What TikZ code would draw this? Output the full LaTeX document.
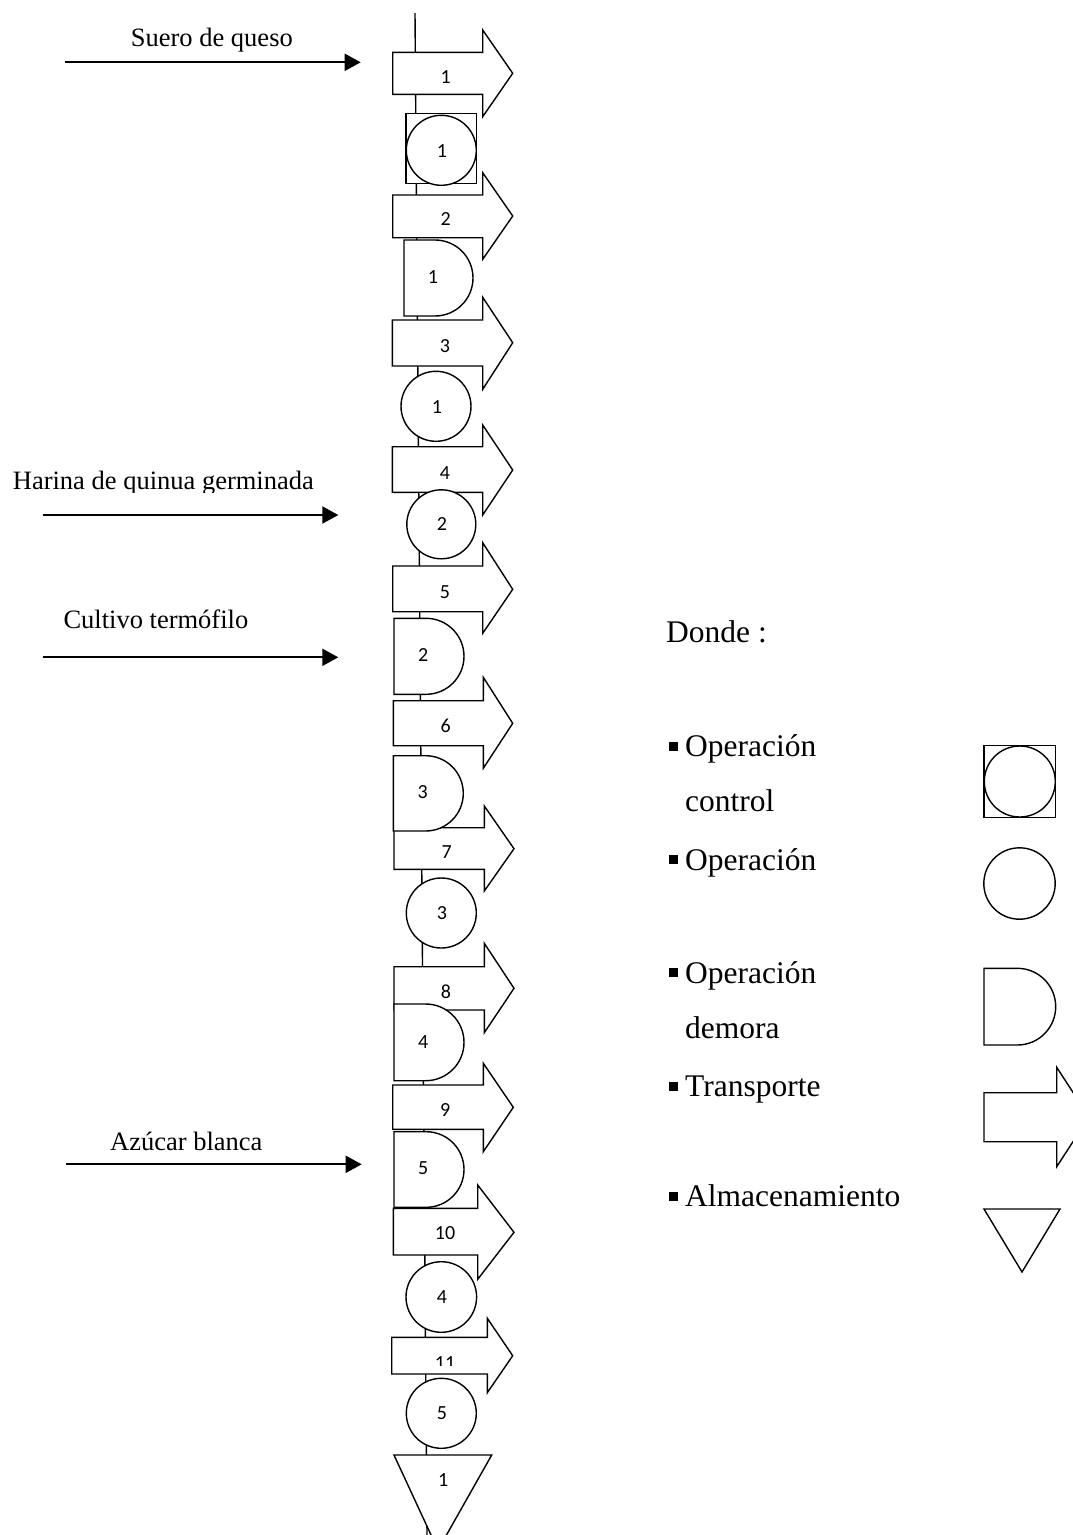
\documentclass[tikz,border=0pt]{standalone}
\usepackage{fontspec}
\setmainfont{Liberation Serif}
\newfontfamily\numfont{Carlito}
\usetikzlibrary{arrows.meta}

% transport arrow: left, right, top, bottom, head top, head bottom, tip x, tip y
\newcommand{\transp}[8]{%
  \draw[shp] (#1,#3) -- (#2,#3) -- (#2,#5) -- (#7,#8) -- (#2,#6) -- (#2,#4) -- (#1,#4) -- cycle;}
% delay symbol: left, top, radius, end of flat part
\newcommand{\delayD}[4]{%
  \draw[shp] (#1,#2) -- (#4,#2) arc[start angle=-90,end angle=90,radius=#3] -- (#1,#2+2*#3) -- cycle;}
% operation symbol: centre x, centre y, radius
\newcommand{\opcirc}[3]{\draw[shp] (#1,#2) circle[radius=#3];}
% bullet mark before a legend entry, at a baseline
\newcommand{\bulletmark}[1]{\fill (669,#1-15) rectangle (678,#1-6);}

\begin{document}
\begin{tikzpicture}[x=1pt,y=-1pt,
  shp/.style={draw, line width=1.4pt, fill=white},
  num/.style={font=\numfont\fontsize{20}{24}\selectfont, inner sep=0pt},
  lbl/.style={font=\fontsize{26.5}{30}\selectfont, inner sep=0pt, anchor=base west},
  leg/.style={font=\fontsize{31.5}{36}\selectfont, inner sep=0pt, anchor=base west},
  feed/.style={line width=2pt, -{Triangle[length=16pt,width=17pt]}}]
\useasboundingbox (0,0) rectangle (1073,1535);
\clip (0,0) rectangle (1073,1535);

% main process line
\coordinate (top) at (415,13);
\coordinate (bot) at (427,1535);
\draw[line width=1.4pt] (top) -- (bot);

% transports
\transp{392.7}{482.7}{52.3}{94.3}{30}{116.7}{512.7}{73.3}
\transp{392.7}{482.7}{195}{237.7}{172.7}{259.3}{512.7}{216}
\transp{392.3}{482.7}{320}{366}{297.3}{389.3}{512.7}{342.7}
\transp{392.3}{482.7}{446.7}{492.3}{425}{515}{512.7}{470}
\transp{392.7}{482.7}{566}{611.7}{542.7}{633.3}{512.7}{589.3}
\transp{393.3}{483.3}{700.7}{745.7}{677.3}{768.3}{512.7}{723.3}
\transp{394}{484.3}{827.7}{869.3}{806}{891}{514}{848.7}
\transp{394}{484.3}{966.7}{1010}{943.3}{1032.7}{514}{988.3}
\transp{392.7}{483.3}{1085}{1129.3}{1063.3}{1151.7}{513.3}{1107.3}
\transp{393.3}{477.7}{1208.3}{1255}{1185}{1279.3}{514}{1232.3}
\transp{391.7}{487.3}{1337.3}{1374}{1318.3}{1392.7}{512.7}{1355.7}

\node[num] (t1) at (445.7,77) {1};
\node[num] (t2) at (445.7,219) {2};
\node[num] (t3) at (445,346) {3};
\node[num] (t4) at (445,472.7) {4};
\node[num] (t5) at (445,591.7) {5};
\node[num] (t6) at (445.7,726) {6};
\node[num] (t7) at (446.7,852.3) {7};
\node[num] (t8) at (446,991.7) {8};
\node[num] (t9) at (445.3,1110) {9};
\node[num] (t10) at (445,1233.3) {10};
\begin{scope}
  \clip (391.7,1337.3) rectangle (487.3,1365);
  \node[num] (t11) at (445,1363.3) {11};
\end{scope}

% combined operation-control
\draw[shp] (406,113.3) rectangle (476.7,183.3);
\opcirc{441.3}{150.3}{35}
\node[num] (oc1) at (442,151) {1};

% delays
\delayD{404}{240}{38}{435}
\node[num] (d1) at (433,276.7) {1};
\delayD{394}{618.3}{38}{426}
\node[num] (d2) at (423.3,655) {2};
\delayD{393.3}{755.7}{37.65}{425.65}
\node[num] (d3) at (422.7,791.7) {3};
\delayD{394}{1004}{38.35}{425.65}
\node[num] (d4) at (423.3,1041.7) {4};
\delayD{394}{1131.7}{37.8}{426.2}
\node[num] (d5) at (423.3,1168.3) {5};

% operations
\opcirc{436}{406.3}{35}
\node[num] (o1) at (437,407) {1};
\opcirc{441.3}{524.3}{34.5}
\node[num] (o2) at (442,524.5) {2};
\opcirc{441.3}{913}{35}
\node[num] (o3) at (442,913) {3};
\opcirc{441.3}{1297}{35.3}
\node[num] (o4) at (442,1296.7) {4};
\opcirc{441.3}{1413.3}{35}
\node[num] (o5) at (442,1413.3) {5};

% storage
\draw[shp] (394,1455) -- (491.7,1455) -- (438,1550) -- cycle;
\node[num] (s1) at (443.3,1480) {1};

% incoming materials
\node[lbl] (m1) at (130.7,46.7) {Suero de queso};
\coordinate (m1a) at (65,62.3);
\coordinate (m1b) at (360.7,62.3);
\draw[feed] (m1a) -- (m1b);

\begin{scope}
  \clip (0,440) rectangle (380,492);
  \node[lbl] (m2) at (12.7,489.5) {Harina de quinua germinada};
\end{scope}
\coordinate (m2a) at (42.7,515);
\coordinate (m2b) at (338.3,515);
\draw[feed] (m2a) -- (m2b);

\node[lbl] (m3) at (63.3,628.3) {Cultivo termófilo};
\coordinate (m3a) at (42.7,657.3);
\coordinate (m3b) at (338.3,657.3);
\draw[feed] (m3a) -- (m3b);

\node[lbl] (m4) at (110,1150) {Azúcar blanca};
\coordinate (m4a) at (66,1164.3);
\coordinate (m4b) at (361.7,1164.3);
\draw[feed] (m4a) -- (m4b);

% legend
\node[leg] (key) at (666,642.7) {Donde :};
\bulletmark{756.7}
\node[leg] (k1) at (685,756.7) {Operación};
\node[leg] (k1b) at (685,811.7) {control};
\bulletmark{870}
\node[leg] (k2) at (685,870) {Operación};
\bulletmark{983.3}
\node[leg] (k3) at (685,983.3) {Operación};
\node[leg] (k3b) at (685,1038.3) {demora};
\bulletmark{1096.7}
\node[leg] (k4) at (685,1096.7) {Transporte};
\bulletmark{1206.7}
\node[leg] (k5) at (685,1206.7) {Almacenamiento};

\draw[shp] (984,745.7) rectangle (1055.7,817.3);
\opcirc{1019.8}{781.5}{35.5}
\opcirc{1019.5}{883.5}{35.7}
\delayD{984}{968.3}{38.35}{1017.35}
\transp{984}{1056.7}{1092.7}{1141.7}{1067.3}{1166.7}{1089}{1117}
\draw[shp] (984,1209) -- (1060,1209) -- (1022,1272) -- cycle;
\end{tikzpicture}
\end{document}
